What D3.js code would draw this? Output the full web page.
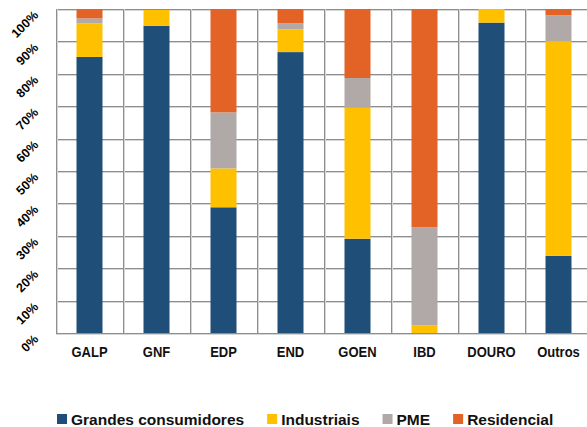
<!DOCTYPE html>
<html>
<head>
<meta charset="utf-8">
<script src="https://cdnjs.cloudflare.com/ajax/libs/d3/7.8.5/d3.min.js"></script>
<style>
  body { margin: 0; background: #fff; }
  svg { display: block; font-family: "Liberation Sans", Arial, sans-serif; }
</style>
</head>
<body>
<svg width="587" height="427"></svg>
<script>
// data (percent of each company)
var categories = ["GALP", "GNF", "EDP", "END", "GOEN", "IBD", "DOURO", "Outros"];
var seriesNames = ["Grandes consumidores", "Industriais", "PME", "Residencial"];
var grandes     = [85.2, 94.8, 38.8, 86.7, 29.1, 0.0, 95.8, 23.8];
var industriais = [10.4,  5.0, 12.0,  7.0, 40.4, 2.4,  4.2, 66.3];
var pme         = [ 1.5,  0.0, 17.3,  1.9,  9.2, 30.2, 0.0,  8.0];
var residencial = [ 2.9,  0.2, 31.9,  4.4, 21.3, 67.4, 0.0,  1.9];
var yTicks = [0, 10, 20, 30, 40, 50, 60, 70, 80, 90, 100];
var colors = ["#1f4e79", "#ffc000", "#b0a9a7", "#e36226"];

var svg = d3.select("svg");
var margin = {top: 9, left: 56, bottom: 94};
var plotW = 536, plotH = 324;   // plot runs past the right edge, like the picture

var rows = categories.map(function(c, i) {
  return {cat: c, s0: grandes[i], s1: industriais[i], s2: pme[i], s3: residencial[i]};
});
var keys = ["s0", "s1", "s2", "s3"];
var stacked = d3.stack().keys(keys)(rows);

var x = d3.scaleBand().domain(categories).range([0, plotW]).paddingInner(0).paddingOuter(0);
var y = d3.scaleLinear().domain([0, 100]).range([plotH, 0]);

var g = svg.append("g").attr("transform", "translate(" + margin.left + "," + margin.top + ")");

// grid (dark line with a lighter shadow next to it)
var grid = g.append("g");
yTicks.forEach(function(t) {
  var yy = Math.round(y(t));
  grid.append("line").attr("x1", 0).attr("x2", plotW + 10)
    .attr("y1", yy + 1.5).attr("y2", yy + 1.5).attr("stroke", "#d6d6d6");
  grid.append("line").attr("x1", 0).attr("x2", plotW + 10)
    .attr("y1", yy + 0.5).attr("y2", yy + 0.5).attr("stroke", "#8e8e8e");
});
d3.range(categories.length + 1).forEach(function(i) {
  var xx = Math.round(i * x.step());
  grid.append("line").attr("y1", 0).attr("y2", plotH)
    .attr("x1", xx + 1.5).attr("x2", xx + 1.5).attr("stroke", "#d6d6d6");
  grid.append("line").attr("y1", 0).attr("y2", plotH)
    .attr("x1", xx + 0.5).attr("x2", xx + 0.5).attr("stroke", "#8e8e8e");
});

// bars
var bw = 26;
g.selectAll("g.layer").data(stacked).enter().append("g")
  .attr("class", "layer")
  .attr("fill", function(d, i) { return colors[i]; })
  .selectAll("rect").data(function(d) { return d; }).enter().append("rect")
  .filter(function(d) { return d[1] - d[0] > 0; })
  .attr("x", function(d) { return x(d.data.cat) + x.bandwidth() / 2 - bw / 2; })
  .attr("width", bw)
  .attr("y", function(d) { return y(d[1]); })
  .attr("height", function(d) { return y(d[0]) - y(d[1]); });

// y labels, rotated
g.selectAll("text.ylab").data(yTicks).enter().append("text")
  .attr("class", "ylab")
  .attr("transform", function(t) { return "translate(-17," + (y(t) + 7) + ") rotate(-45)"; })
  .attr("text-anchor", "end")
  .attr("font-size", 12.5).attr("font-weight", "bold").attr("fill", "#000")
  .text(function(t) { return t + "%"; });

// x labels
g.selectAll("text.xlab").data(categories).enter().append("text")
  .attr("class", "xlab")
  .attr("transform", function(c) { return "translate(" + (x(c) + x.bandwidth() / 2) + "," + (plotH + 24) + ") scale(1,1.15)"; })
  .attr("text-anchor", "middle")
  .attr("font-size", 13).attr("font-weight", "bold").attr("fill", "#111")
  .text(function(c) { return c; });

// legend
var leg = svg.append("g");
var lx = 57;
seriesNames.forEach(function(name, i) {
  leg.append("rect").attr("x", lx).attr("y", 414).attr("width", 10).attr("height", 10)
    .attr("fill", colors[i]);
  var t = leg.append("text")
    .attr("x", lx + 14).attr("y", 425)
    .attr("font-size", 15.5).attr("font-weight", "bold").attr("fill", "#111")
    .text(name);
  lx += 14 + t.node().getComputedTextLength() + 23;
});
</script>
</body>
</html>
